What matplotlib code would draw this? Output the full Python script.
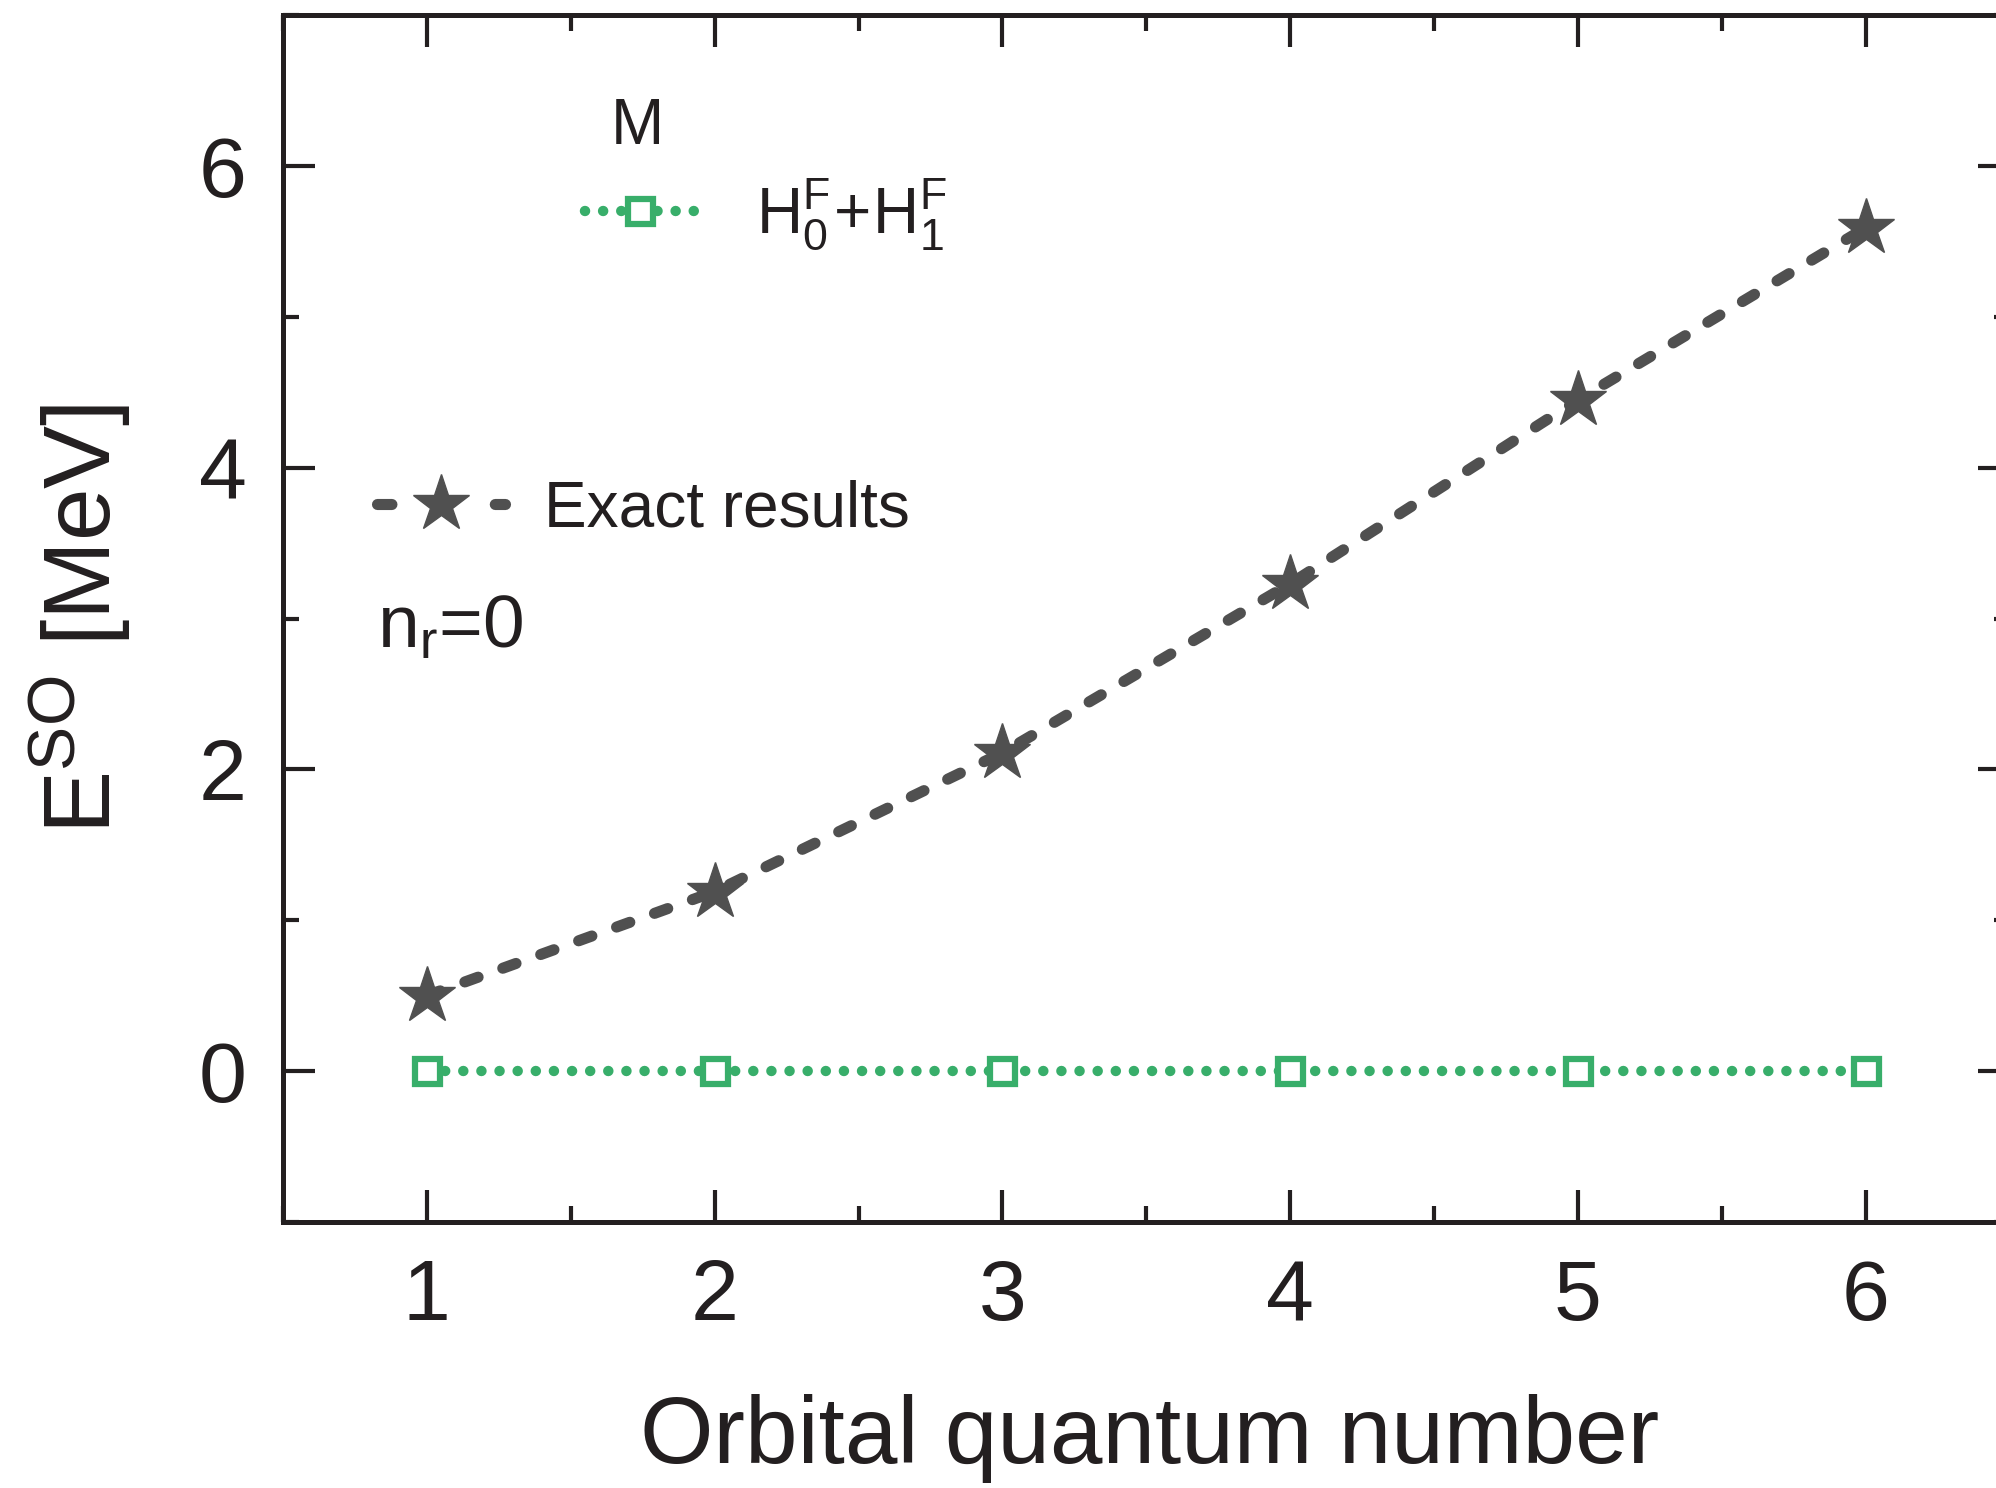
import numpy as np
import matplotlib
matplotlib.use("Agg")
import matplotlib.pyplot as plt
from matplotlib.lines import Line2D
from matplotlib.ticker import MultipleLocator

plt.rcParams['font.family'] = ['Liberation Sans', 'DejaVu Sans']
plt.rcParams['mathtext.fontset'] = 'custom'
plt.rcParams['mathtext.rm'] = 'Liberation Sans'
plt.rcParams['mathtext.it'] = 'Liberation Sans'

# orbital quantum number l and spin-orbit splitting (MeV)
l_values = [1, 2, 3, 4, 5, 6]
exact_so = [0.50, 1.19, 2.11, 3.23, 4.45, 5.59]
h0h1_so = [0.0, 0.0, 0.0, 0.0, 0.0, 0.0]

star_col = '#505050'
green_col = '#38ae6a'
ink = '#231f20'

fig = plt.figure(figsize=(19.96, 14.88), dpi=100)
# axes run past the right edge, like the cropped original
ax = fig.add_axes([0.1418, 0.1788, 0.865, 0.811])

ax.plot(l_values, exact_so, color=star_col, lw=8, ls=(0, (1.27, 2.36)),
        dash_capstyle='round', marker='*', ms=43, mec=star_col, mfc=star_col, zorder=3)
ax.plot(l_values, h0h1_so, color=green_col, lw=7.5, ls=(0, (0.01, 1.73)),
        dash_capstyle='round', marker='s', ms=18, mfc='white', mec=green_col,
        mew=4.5, zorder=3)

ax.set_xlim(0.5, 6.5)
ax.set_ylim(-1, 7)
ax.xaxis.set_major_locator(MultipleLocator(1))
ax.xaxis.set_minor_locator(MultipleLocator(0.5))
ax.yaxis.set_major_locator(MultipleLocator(2))
ax.yaxis.set_minor_locator(MultipleLocator(1))

for s in ax.spines.values():
    s.set_linewidth(3.6)
    s.set_color(ink)
ax.tick_params(which='both', direction='in', top=True, right=True, color=ink,
               labelsize=62, labelcolor=ink)
ax.tick_params(which='major', length=23, width=3, pad=26)
ax.tick_params(which='minor', length=11.5, width=3)

ax.set_xlabel('Orbital quantum number', fontsize=68, color=ink)
ax.set_ylabel(r'E$^{\mathregular{SO}}$ [MeV]', fontsize=68, color=ink)
ax.xaxis.set_label_coords(0.502, -0.1425)
ax.yaxis.set_label_coords(-0.087, 0.50)

# legend glyphs: short dash - star - short dash, and dots - square - dots
h_exact = Line2D([], [], color=star_col, lw=8, ls=(0, (1.3, 9.3)), dash_capstyle='round',
                 marker='*', ms=43, mec=star_col, mfc=star_col)
h_h01 = Line2D([], [], color=green_col, lw=7.5, ls=(0.4, (0.01, 1.73)), dash_capstyle='round',
               marker='s', ms=18, mfc='white', mec=green_col, mew=4.5)

leg1 = ax.legend([h_exact], ['Exact results'], loc='center left',
                 bbox_to_anchor=(0.0544, 0.5907), frameon=False, fontsize=46,
                 handlelength=2.0, handletextpad=0.62, borderpad=0, borderaxespad=0,
                 labelcolor=ink)
ax.add_artist(leg1)
ax.legend([h_h01], [r'$\mathregular{H_0^F\!+\!H_1^F}$'], loc='center left',
          bbox_to_anchor=(0.1668, 0.835), frameon=False, fontsize=46,
          handlelength=2.17, handletextpad=0.72, borderpad=0, borderaxespad=0,
          labelcolor=ink)

ax.text(0.205, 0.907, 'M', transform=ax.transAxes, fontsize=46, ha='center',
        va='center', color=ink)
ax.text(0.0544, 0.476, r'n$_\mathregular{r}$=0', transform=ax.transAxes, fontsize=54,
        ha='left', va='baseline', color=ink)

fig.savefig('out.png', dpi=100)
